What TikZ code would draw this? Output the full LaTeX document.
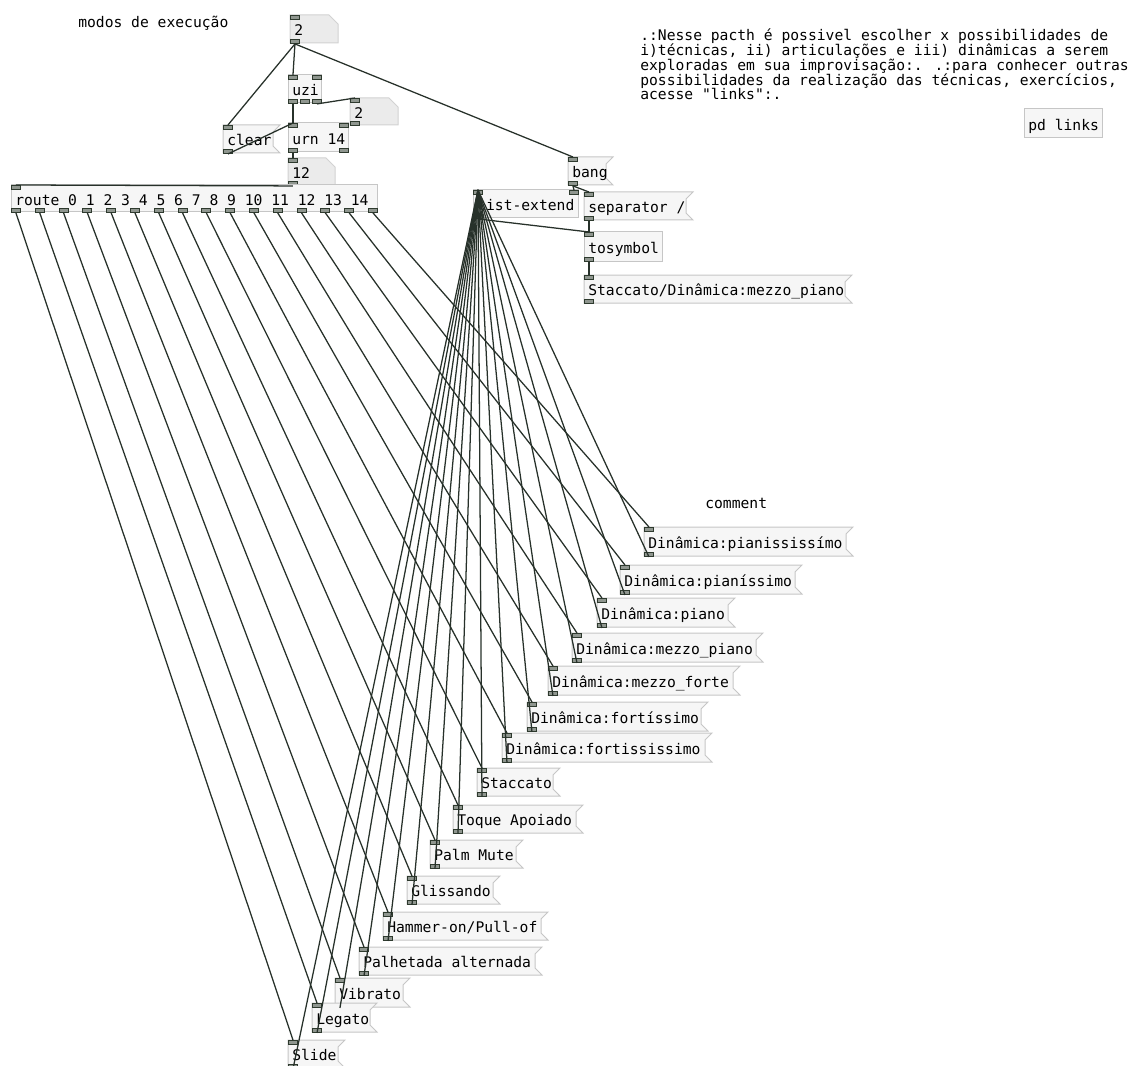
\documentclass[tikz,border=0pt]{standalone}
\usepackage{fontspec}
\usepackage{tikz}
\newfontfamily\pdfont{DejaVu Sans Mono}
\newcommand{\pdsize}{\fontsize{11}{11.1}\selectfont}

\definecolor{boxfill}{HTML}{F6F6F6}
\definecolor{boxline}{HTML}{C6C6C6}
\definecolor{atomfill}{HTML}{EBEBEB}
\definecolor{atomline}{HTML}{D2D2D2}
\definecolor{portline}{HTML}{2E3A2E}
\definecolor{portfill}{HTML}{8F968F}
\definecolor{wirecol}{HTML}{27312A}

\tikzset{
  boxframe/.style={draw=boxline, fill=boxfill, line width=0.75pt},
  atomframe/.style={draw=atomline, fill=atomfill, line width=0.75pt},
  pdtext/.style={anchor=west, inner sep=1.5pt, text height=8pt, text depth=2.5pt, font=\pdfont\pdsize},
  pdcomment/.style={anchor=base west, inner sep=0pt, align=left, font=\pdfont\pdsize},
  pdport/.style={draw=portline, fill=portfill, line width=0.7pt, anchor=north west,
    inner sep=0pt, minimum width=6.75pt, minimum height=3pt},
  pdwire/.style={draw=wirecol, line width=0.95pt}
}

% message box: name, x1, y1, x2 (tip of flag), y2, text
\newcommand{\pdmsg}[6]{%
  \draw[boxframe] (#2,#3) -- (#4,#3) -- ({#4-7},{#3+7}) -- ({#4-7},{#5-7}) -- (#4,#5) -- (#2,#5) -- cycle;
  \node[pdtext] (#1) at ({#2+2},{(#3+#5)/2+3}) {#6};
  \node[pdport] (#1-i0) at (#2,#3) {};
  \node[pdport] (#1-o0) at (#2,{#5-4}) {};
}
% number box: name, x1, y1, x2, y2, text
\newcommand{\pdatom}[6]{%
  \draw[atomframe] (#2,#3) -- ({#4-9},#3) -- (#4,{#3+9}) -- (#4,#5) -- (#2,#5) -- cycle;
  \node[pdtext] (#1) at ({#2+2},{(#3+#5)/2+3}) {#6};
  \node[pdport] (#1-i0) at (#2,#3) {};
  \node[pdport] (#1-o0) at (#2,{#5-4}) {};
}
% object box (ports are added one by one): name, x1, y1, x2, y2, text
\newcommand{\pdobj}[6]{%
  \draw[boxframe] (#2,#3) rectangle (#4,#5);
  \node[pdtext] (#1) at ({#2+2},{(#3+#5)/2+3}) {#6};
}

\begin{document}
\begin{tikzpicture}[x=0.75pt,y=0.75pt,yscale=-1,xscale=1]
\useasboundingbox (0,0) rectangle (1134,1066);

% Comments
\node[pdcomment] (title) at (78,28) {modos de execução};
% (base of a multi-line node = its last line)
\node[pdcomment] (about) at (640,100) {.:Nesse pacth é possivel escolher x possibilidades de\\
i)técnicas, ii) articulações e iii) dinâmicas a serem\\
exploradas em sua improvisação:. .:para conhecer outras\\
possibilidades da realização das técnicas, exercícios,\\
acesse "links":.};
\node[pdcomment] (cmt) at (705,508) {comment};

% Counter part
\pdatom{nmax}{290}{15}{338}{43}{2}
\pdobj{uzi}{288}{75}{321}{103}{uzi}
\node[pdport] (uzi-i0) at (288,75) {};
\node[pdport] (uzi-i1) at (312,75) {};
\node[pdport] (uzi-o0) at (288,99) {};
\node[pdport] (uzi-o1) at (300,99) {};
\node[pdport] (uzi-o2) at (312,99) {};
\pdatom{nidx}{350}{98}{398}{125}{2}
\pdmsg{clear}{223}{125}{280}{153}{clear}
\pdobj{urn}{288}{123}{348}{152}{urn 14}
\node[pdport] (urn-i0) at (288,123) {};
\node[pdport] (urn-i1) at (339,123) {};
\node[pdport] (urn-o0) at (288,148) {};
\node[pdport] (urn-o1) at (339,148) {};
\pdatom{nval}{288}{158}{335}{185}{12}

% Router
\pdobj{route}{11}{185}{377}{212}{route 0 1 2 3 4 5 6 7 8 9 10 11 12 13 14}
\node[pdport] (route-i0) at (11,185) {};
\foreach \k in {0,...,15}
  \node[pdport] (route-o\k) at ({11+23.8*\k},208) {};

% Output chain
\pdmsg{bang}{568}{157}{613}{185}{bang}
\pdobj{lext}{473}{190}{578}{218}{list-extend}
\node[pdport] (lext-i0) at (473,190) {};
\node[pdport] (lext-i1) at (569,190) {};
\node[pdport] (lext-o0) at (473,214) {};
\pdmsg{sep}{584}{192}{693}{220}{separator /}
\pdobj{tosym}{584}{232}{662}{261}{tosymbol}
\node[pdport] (tosym-i0) at (584,232) {};
\node[pdport] (tosym-o0) at (584,257) {};
\pdmsg{result}{584}{275}{852}{303}{Staccato/Dinâmica:mezzo\_piano}
\pdobj{links}{1024}{109}{1102}{138}{pd links}

% Messages
\pdmsg{ppp}{644}{527}{853}{556}{Dinâmica:pianississímo}
\pdmsg{pp}{620}{565}{802}{594}{Dinâmica:pianíssimo}
\pdmsg{p}{597}{598}{735}{627}{Dinâmica:piano}
\pdmsg{mp}{572}{633}{763}{662}{Dinâmica:mezzo\_piano}
\pdmsg{mf}{548}{666}{740}{695}{Dinâmica:mezzo\_forte}
\pdmsg{ff}{527}{702}{708}{731}{Dinâmica:fortíssimo}
\pdmsg{fff}{502}{733}{712}{762}{Dinâmica:fortississimo}
\pdmsg{stacc}{477}{768}{560}{796}{Staccato}
\pdmsg{toque}{453}{805}{583}{833}{Toque Apoiado}
\pdmsg{palm}{430}{840}{523}{868}{Palm Mute}
\pdmsg{glis}{407}{876}{500}{904}{Glissando}
\pdmsg{hammer}{383}{912}{548}{940}{Hammer-on/Pull-of}
\pdmsg{palh}{359}{947}{542}{975}{Palhetada alternada}
\pdmsg{vib}{335}{978}{410}{1007}{Vibrato}
\pdmsg{leg}{312}{1003}{377}{1032}{Legato}
\pdmsg{slide}{288}{1040}{345}{1068}{Slide}

% Cords
\draw[pdwire] (nmax-o0.south) -- (uzi-i0.north);
\draw[pdwire] (nmax-o0.south) -- (clear-i0.north);
\draw[pdwire] (nmax-o0.south) -- (bang-i0.north);
\draw[pdwire] (uzi-o0.south) -- (urn-i0.north);
\draw[pdwire] (uzi-o2.south) -- (nidx-i0.north);
\draw[pdwire] (clear-o0.south) -- (urn-i0.north);
\draw[pdwire] (urn-o0.south) -- (nval-i0.north);
\draw[pdwire] (nval-o0.south) -- (route-i0.north);
\draw[pdwire] (bang-o0.south) -- (lext-i1.north);
\draw[pdwire] (bang-o0.south) -- (sep-i0.north);
\draw[pdwire] (sep-o0.south) -- (tosym-i0.north);
\draw[pdwire] (lext-o0.south) -- (tosym-i0.north);
\draw[pdwire] (tosym-o0.south) -- (result-i0.north);
\foreach \b [count=\k from 0] in {slide,leg,vib,palh,hammer,glis,palm,toque,stacc,fff,ff,mf,mp,p,pp,ppp} {
  \draw[pdwire] (route-o\k.south) -- (\b-i0.north);
  \draw[pdwire] (\b-o0.south) -- (lext-i0.north);
}

\end{tikzpicture}
\end{document}
